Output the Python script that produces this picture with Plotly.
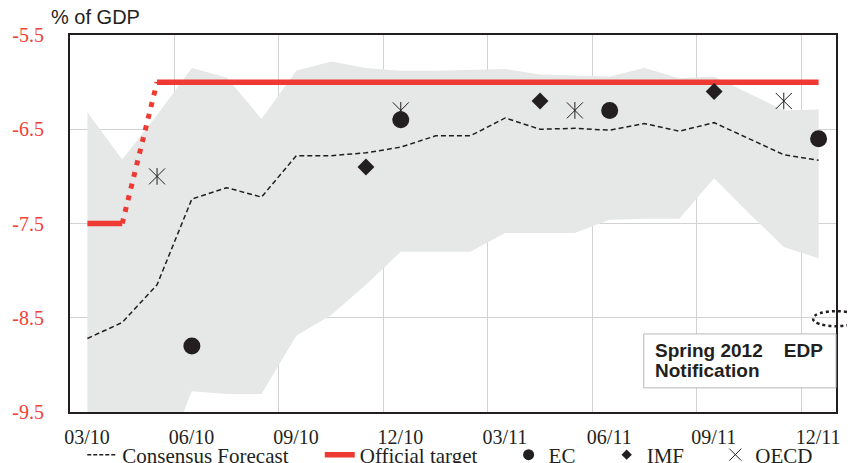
import plotly.graph_objects as go

# ---------------- data ----------------
months = ["03/10", "04/10", "05/10", "06/10", "07/10", "08/10", "09/10", "10/10",
          "11/10", "12/10", "01/11", "02/11", "03/11", "04/11", "05/11", "06/11",
          "07/11", "08/11", "09/11", "10/11", "11/11", "12/11"]
tick_labels = ["03/10", "06/10", "09/10", "12/10", "03/11", "06/11", "09/11", "12/11"]

consensus = [-8.72, -8.55, -8.15, -7.24, -7.12, -7.22, -6.78, -6.78, -6.75, -6.69, -6.57,
             -6.57, -6.38, -6.50, -6.49, -6.51, -6.44, -6.52, -6.43, -6.60, -6.77, -6.83]
band_upper = [-6.32, -6.82, -6.35, -5.85, -5.95, -6.39, -5.88, -5.78, -5.85, -5.88, -5.88,
              -5.87, -5.86, -5.92, -5.93, -5.94, -5.85, -5.96, -5.94, -6.12, -6.30, -6.29]
band_lower = [-10.0, -10.0, -10.2, -9.28, -9.31, -9.31, -8.69, -8.47, -8.15, -7.80, -7.80,
              -7.80, -7.60, -7.60, -7.60, -7.46, -7.45, -7.45, -7.02, -7.39, -7.75, -7.87]
official_target = [-7.5, -7.5, -6.0, -6.0, -6.0, -6.0, -6.0, -6.0, -6.0, -6.0, -6.0,
                   -6.0, -6.0, -6.0, -6.0, -6.0, -6.0, -6.0, -6.0, -6.0, -6.0, -6.0]

ec_months = ["06/10", "12/10", "06/11", "12/11"]
ec_values = [-8.8, -6.4, -6.3, -6.6]
imf_months = ["11/10", "04/11", "09/11"]
imf_values = [-6.9, -6.2, -6.1]
oecd_months = ["05/10", "12/10", "05/11", "11/11"]
oecd_values = [-7.0, -6.3, -6.3, -6.2]

y_ticks = [-9.5, -8.5, -7.5, -6.5, -5.5]

# ---------------- styles ----------------
RED = "#ee3a33"
TICKRED = "#ef4136"
DARK = "#231f20"
GRAY = "#e6e7e7"
GRID = "#d2d2d2"
SERIF = "Times New Roman, Liberation Serif, serif"
SANS = "Arial, Liberation Sans, sans-serif"

W, H = 855, 463
M_L, M_R, M_T, M_B = 62, 27, 27, 59

x = list(range(len(months)))
pos = {m: i for i, m in enumerate(months)}
# gridlines sit between month categories; each label is shifted half a month to its month
tick_pos = [pos[m] - 0.5 for m in tick_labels]
x_range = [-0.5, len(months) - 0.5]
half_month_px = int(round(0.5 * (W - M_L - M_R) / (x_range[1] - x_range[0])))

fig = go.Figure()

# range band
fig.add_trace(go.Scatter(x=x, y=band_lower, mode="lines", line=dict(width=0, color=GRAY),
                         showlegend=False, hoverinfo="skip"))
fig.add_trace(go.Scatter(x=x, y=band_upper, mode="lines", line=dict(width=0, color=GRAY),
                         fill="tonexty", fillcolor=GRAY, showlegend=False, hoverinfo="skip"))

# consensus forecast
fig.add_trace(go.Scatter(x=x, y=consensus, mode="lines",
                         line=dict(color=DARK, width=1.5, dash="5px,3px"), showlegend=False))

# official target: solid segments and dotted transition
fig.add_trace(go.Scatter(x=x[0:2], y=official_target[0:2], mode="lines",
                         line=dict(color=RED, width=5.5), showlegend=False))
fig.add_trace(go.Scatter(x=x[1:3], y=official_target[1:3], mode="lines",
                         line=dict(color=RED, width=5, dash="5px,7px"), showlegend=False))
fig.add_trace(go.Scatter(x=x[2:], y=official_target[2:], mode="lines",
                         line=dict(color=RED, width=5.5), showlegend=False))

# institutions
fig.add_trace(go.Scatter(x=[pos[m] for m in ec_months], y=ec_values, mode="markers",
                         marker=dict(symbol="circle", size=17, color=DARK), showlegend=False))
fig.add_trace(go.Scatter(x=[pos[m] for m in imf_months], y=imf_values, mode="markers",
                         marker=dict(symbol="diamond", size=13, color=DARK), showlegend=False))
fig.add_trace(go.Scatter(x=[pos[m] for m in oecd_months], y=oecd_values, mode="markers",
                         marker=dict(symbol="x-thin-open", size=16, color=DARK,
                                     line=dict(width=1, color=DARK)), showlegend=False))
fig.add_trace(go.Scatter(x=[pos[m] for m in oecd_months], y=oecd_values, mode="markers",
                         marker=dict(symbol="line-ns-open", size=12, color=DARK,
                                     line=dict(width=1, color=DARK)), showlegend=False))

# legend entries
pad = "\u00a0" * 5
fig.add_trace(go.Scatter(x=[None], y=[None], mode="lines", name="Consensus Forecast" + pad,
                         line=dict(color=DARK, width=1.5, dash="4px,2px")))
fig.add_trace(go.Scatter(x=[None], y=[None], mode="lines", name="Official target" + pad,
                         line=dict(color=RED, width=5.5)))
fig.add_trace(go.Scatter(x=[None], y=[None], mode="markers", name="EC" + pad,
                         marker=dict(symbol="circle", size=11, color=DARK)))
fig.add_trace(go.Scatter(x=[None], y=[None], mode="markers", name="IMF" + pad,
                         marker=dict(symbol="diamond", size=8, color=DARK)))
fig.add_trace(go.Scatter(x=[None], y=[None], mode="markers", name="OECD",
                         marker=dict(symbol="x-thin-open", size=12, color=DARK,
                                     line=dict(width=1, color=DARK))))

fig.update_layout(
    width=W, height=H,
    margin=dict(l=M_L, r=M_R, t=M_T, b=M_B, autoexpand=False),
    paper_bgcolor="white", plot_bgcolor="white",
    showlegend=True,
    legend=dict(orientation="h", x=0.016, xanchor="left", y=-0.114, yanchor="middle",
                traceorder="normal",
                font=dict(family=SERIF, size=21, color=DARK), bgcolor="rgba(0,0,0,0)"),
    xaxis=dict(range=x_range, tickmode="array", tickvals=tick_pos, ticktext=tick_labels,
               ticklabelshift=half_month_px, ticklabelstandoff=6,
               tickfont=dict(family=SERIF, size=20, color=DARK),
               showgrid=True, gridcolor=GRID, gridwidth=1, zeroline=False, ticks="",
               showline=True, linecolor=DARK, linewidth=2, mirror=True, automargin=False),
    yaxis=dict(range=[-9.5, -5.5], tickmode="array", tickvals=y_ticks,
               ticktext=[str(v) for v in y_ticks],
               showgrid=True, gridcolor=GRID, gridwidth=1, zeroline=False, ticks="",
               ticklabelstandoff=20, automargin=False,
               tickfont=dict(family=SERIF, size=20, color=TICKRED),
               showline=True, linecolor=DARK, linewidth=2, mirror=True),
    shapes=[
        dict(type="rect", xref="paper", yref="paper", x0=0.749, x1=1.0, y0=0.064, y1=0.207,
             fillcolor="white", line=dict(color="#b8b8b8", width=1), layer="above"),
        dict(type="circle", xref="paper", yref="y", x0=0.970, x1=1.030, y0=-8.59, y1=-8.43,
             line=dict(color=DARK, width=2.5, dash="dot"), layer="above"),
    ],
    annotations=[
        dict(text="% of GDP", xref="paper", yref="paper", x=-0.027, y=1.047,
             xanchor="left", yanchor="middle", showarrow=False,
             font=dict(family=SANS, size=20, color=DARK)),
        dict(text="<b>Spring 2012\u00a0\u00a0\u00a0\u00a0EDP</b>", xref="paper", yref="paper",
             x=0.761, y=0.162, xanchor="left", yanchor="middle", showarrow=False,
             font=dict(family=SANS, size=19, color=DARK)),
        dict(text="<b>Notification</b>", xref="paper", yref="paper",
             x=0.761, y=0.109, xanchor="left", yanchor="middle", showarrow=False,
             font=dict(family=SANS, size=19, color=DARK)),
    ],
)

fig.write_html("out.html")
